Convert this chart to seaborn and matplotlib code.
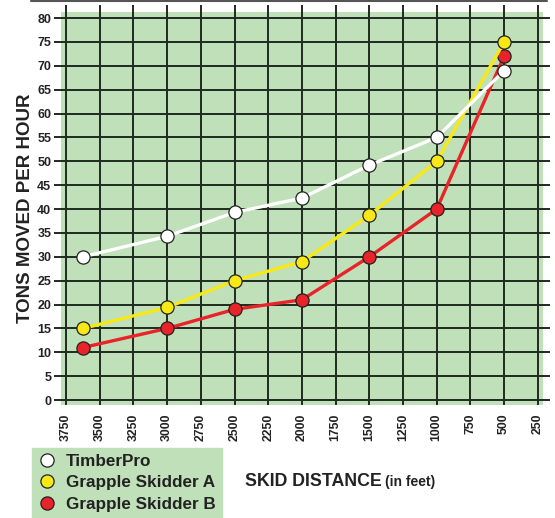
import pandas as pd
import seaborn as sns
import matplotlib.pyplot as plt
from matplotlib.lines import Line2D

# data
distance = [3625, 3000, 2500, 2000, 1500, 1000, 500]
timberpro = [30, 34.3, 39.3, 42.3, 49.2, 55, 69]
skidder_a = [15, 19.4, 25, 29, 38.7, 50, 75]
skidder_b = [11, 15, 19, 21, 30, 40, 72]
x_ticks = [3750, 3500, 3250, 3000, 2750, 2500, 2250, 2000, 1750, 1500, 1250, 1000, 750, 500, 250]
y_ticks = list(range(0, 85, 5))

series_names = ["TimberPro", "Grapple Skidder A", "Grapple Skidder B"]
colors = {"TimberPro": "#ffffff", "Grapple Skidder A": "#f7e816", "Grapple Skidder B": "#e8232a"}

df = pd.DataFrame({
    "distance": distance * 3,
    "tons": timberpro + skidder_a + skidder_b,
    "machine": [n for n in series_names for _ in distance],
})

sns.set_style("white")
plt.rcParams["font.family"] = ["Liberation Sans", "DejaVu Sans"]
plt.rcParams["font.weight"] = "bold"

green = "#c0e0b9"
grid_col = "#1e2b1e"
text_col = "#222222"

fig = plt.figure(figsize=(5.55, 5.18), dpi=100)
ax = fig.add_axes([0.110, 0.218, 0.868, 0.759])
ax.set_facecolor(green)

# draw red first, white last so white sits on top
for name in reversed(series_names):
    sub = df[df["machine"] == name]
    sns.lineplot(data=sub, x="distance", y="tons", ax=ax, color=colors[name],
                 linewidth=2.4, marker="o", markersize=9.5, markeredgecolor=text_col,
                 markeredgewidth=0.9, zorder=4, legend=False)

ax.set_xlim(3787, 213)
ax.set_ylim(-1.05, 81.3)
ax.set_xticks(x_ticks)
ax.set_yticks(y_ticks)
ax.set_xticklabels([str(t) for t in x_ticks], rotation=90, fontsize=8.8, fontweight="bold", color=text_col)
ax.set_yticklabels([str(t) for t in y_ticks], fontsize=9, fontweight="bold", color=text_col)
ax.grid(True, color=grid_col, linewidth=1.4, zorder=1)
ax.set_axisbelow(True)
ax.tick_params(axis="both", direction="out", length=5, width=1.4, color=grid_col, pad=2)
ax.tick_params(axis="x", top=True, labeltop=False, pad=1)
ax.tick_params(axis="y", right=True, labelright=False, length=3)
ax.tick_params(axis="y", which="major", left=True, length=5)
for s in ax.spines.values():
    s.set_visible(False)

ax.set_xlabel("")
ax.set_ylabel("TONS MOVED PER HOUR", fontsize=13.5, fontweight="bold", color=text_col, labelpad=2)

fig.text(0.442, 0.071, "SKID DISTANCE", fontsize=12.8, fontweight="bold", color=text_col, va="center")
fig.text(0.694, 0.069, "(in feet)", fontsize=10, fontweight="bold", color=text_col, va="center")

# top rule
fig.add_artist(Line2D([0.055, 0.985], [0.998, 0.998], color="#555555", linewidth=1.5))

handles = [Line2D([], [], linestyle="none", marker="o", markersize=9.5,
                  markerfacecolor=colors[n], markeredgecolor=text_col, markeredgewidth=0.9)
           for n in series_names]
leg = fig.legend(handles, series_names, loc="lower left", bbox_to_anchor=(0.058, 0.0),
                 frameon=True, fancybox=False, facecolor=green, edgecolor=green,
                 fontsize=12.3, handletextpad=0.6, labelspacing=0.36, borderpad=0.38,
                 handlelength=1.0, borderaxespad=0)
for t in leg.get_texts():
    t.set_fontweight("bold")
    t.set_color(text_col)
leg.get_frame().set_alpha(1)

fig.savefig("out.png", dpi=100)
